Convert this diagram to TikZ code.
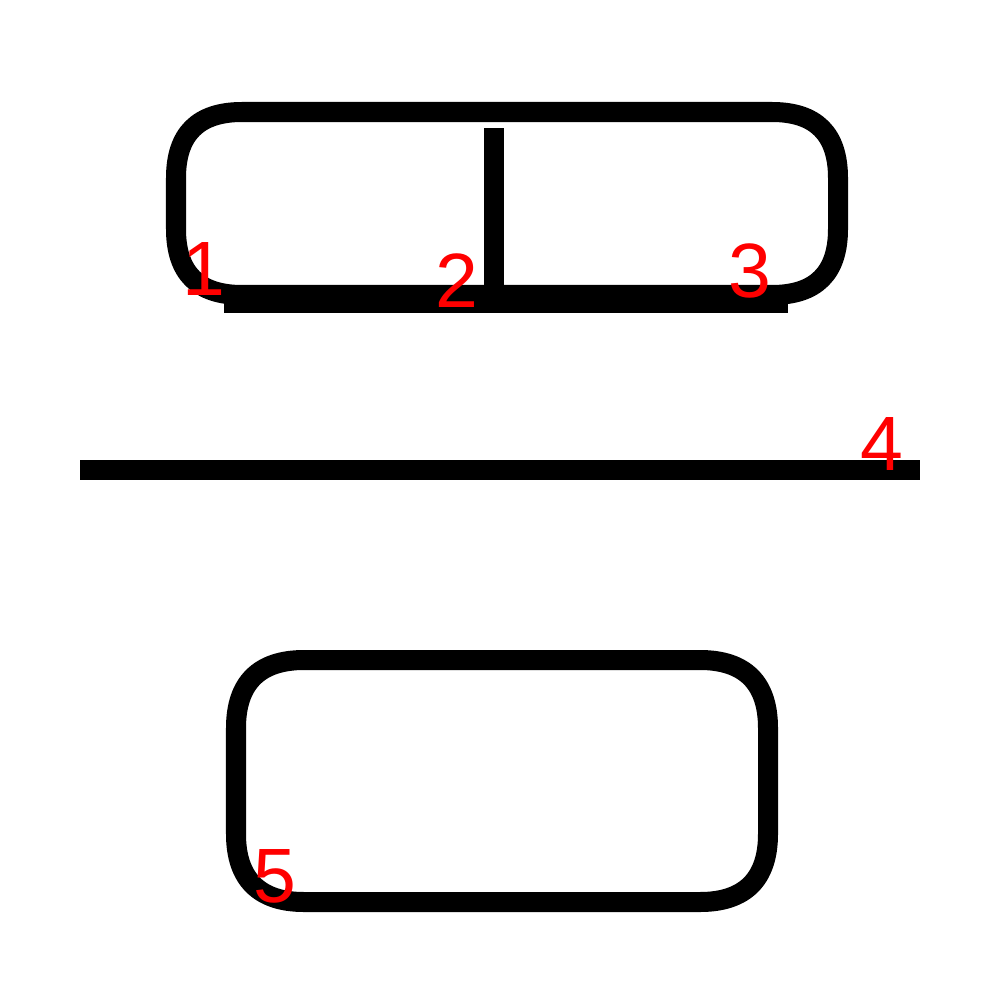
\documentclass[tikz,border=0pt]{standalone}
\usepackage{fontspec}
\setmainfont{Liberation Sans}
\newcommand{\sqbox}[6]{% x0 y0 x1 y1 R k
  \draw[stroke] (#1+#5,#2) -- (#3-#5,#2) .. controls (#3-#6,#2) and (#3,#2+#6) .. (#3,#2+#5)
    -- (#3,#4-#5) .. controls (#3,#4-#6) and (#3-#6,#4) .. (#3-#5,#4)
    -- (#1+#5,#4) .. controls (#1+#6,#4) and (#1,#4-#6) .. (#1,#4-#5)
    -- (#1,#2+#5) .. controls (#1,#2+#6) and (#1+#6,#2) .. cycle;}
\begin{document}
\begin{tikzpicture}[x=0.01cm,y=-0.01cm,
  stroke/.style={draw=black,line width=20*0.2845pt},
  num/.style={text=red,inner sep=0pt,anchor=base,font=\fontsize{21.9}{24}\selectfont}]
\useasboundingbox[fill=white] (0,0) rectangle (1000,1000);
% top rounded box
\sqbox{176}{112}{838}{295}{66}{22}
% vertical stroke
\draw[stroke] (494,128) -- (494,295);
% underline stroke
\draw[stroke] (224,303) -- (788,303);
% long horizontal
\draw[stroke] (80,470) -- (920,470);
% bottom rounded box
\sqbox{236}{660}{768}{902}{68}{23}
% labels
\node[num] (n1) at (204,295) {1};
\node[num] (n2) at (457,307) {2};
\node[num] (n3) at (750,297) {3};
\node[num] (n4) at (882,470) {4};
\node[num] (n5) at (275,902) {5};
\end{tikzpicture}
\end{document}
